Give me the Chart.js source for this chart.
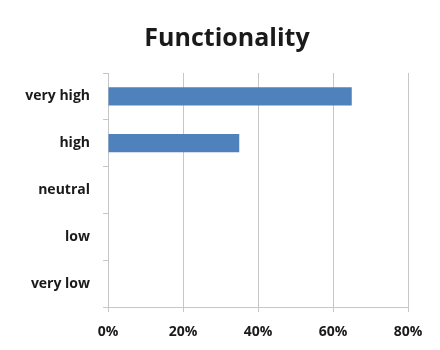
<!DOCTYPE html>
<html>
<head>
<meta charset="utf-8">
<script src="https://cdn.jsdelivr.net/npm/chart.js@4/dist/chart.umd.min.js"></script>
<style>
  html, body { margin: 0; padding: 0; background: #ffffff; }
  #wrap { width: 440px; height: 350px; }
</style>
</head>
<body>
<div id="wrap"><canvas id="chart" width="440" height="350"></canvas></div>
<script>
// Survey ratings for "Functionality": share of answers per level
const chartTitle = 'Functionality';
const categories = ['very high', 'high', 'neutral', 'low', 'very low'];
const shares = [0.65, 0.35, 0, 0, 0];
const axisTicks = [0, 0.2, 0.4, 0.6, 0.8];

const fontFamily = '"Open Sans", "Liberation Sans", sans-serif';
const gridColor = '#c6c6c6';
const textColor = '#1a1a1a';

// Heading drawn centred over the whole figure (labels + plot)
const headingPlugin = {
  id: 'heading',
  afterDraw(chart) {
    const ctx = chart.ctx;
    ctx.save();
    ctx.fillStyle = textColor;
    ctx.font = 'bold 25px ' + fontFamily;
    ctx.textAlign = 'center';
    ctx.textBaseline = 'alphabetic';
    ctx.fillText(chartTitle, 227, 46);
    ctx.restore();
  }
};

new Chart(document.getElementById('chart'), {
  type: 'bar',
  data: {
    labels: categories,
    datasets: [{
      data: shares,
      backgroundColor: '#4f81bd',
      borderWidth: 0,
      barPercentage: 0.78,
      categoryPercentage: 0.5
    }]
  },
  plugins: [headingPlugin],
  options: {
    indexAxis: 'y',
    responsive: false,
    animation: false,
    devicePixelRatio: 1,
    layout: { padding: { left: 0, right: 32, top: 73, bottom: 0 } },
    plugins: {
      legend: { display: false },
      tooltip: { enabled: false },
      title: { display: false }
    },
    scales: {
      x: {
        min: axisTicks[0],
        max: axisTicks[axisTicks.length - 1],
        afterBuildTicks(scale) {
          scale.ticks = axisTicks.map(v => ({ value: v }));
        },
        afterFit(scale) { scale.height = 43; },
        ticks: {
          color: textColor,
          padding: 12,
          font: { family: fontFamily, size: 14, weight: 'bold', lineHeight: 1.2 },
          callback: v => Math.round(v * 100) + '%'
        },
        grid: { color: gridColor, lineWidth: 1, tickLength: 5 },
        border: { display: true, color: gridColor }
      },
      y: {
        afterFit(scale) { scale.width = 108; },
        ticks: {
          color: textColor,
          padding: 13,
          font: { family: fontFamily, size: 14, weight: 'bold' }
        },
        grid: { drawOnChartArea: false, drawTicks: true, tickLength: 5, color: gridColor, offset: true },
        border: { display: true, color: gridColor }
      }
    }
  }
});
</script>
</body>
</html>
